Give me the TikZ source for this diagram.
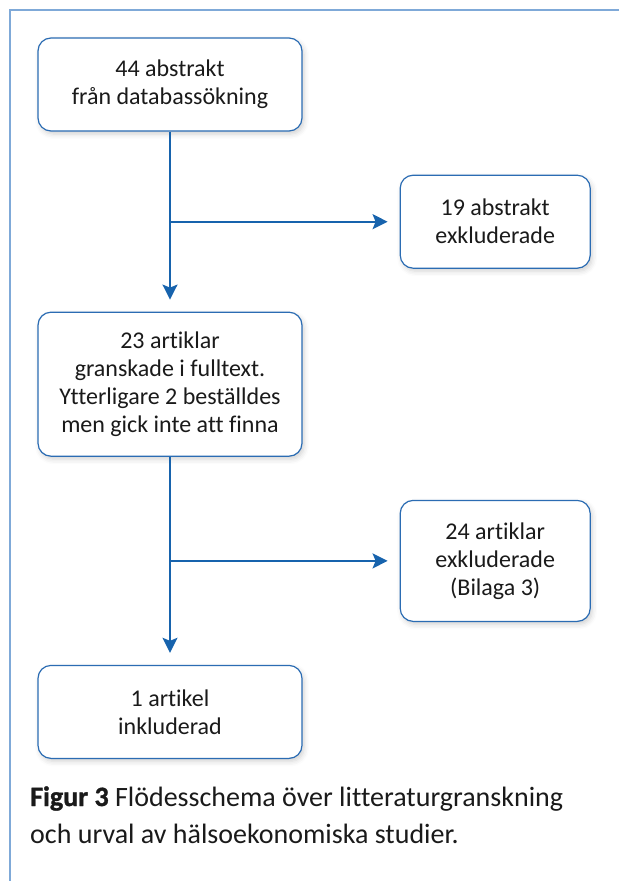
\documentclass[tikz,border=0pt]{standalone}
\usepackage{fontspec}
\setmainfont{Carlito}[Ligatures=NoCommon]
\newfontfamily\heavyfont{Carlito}[BoldFeatures={FakeBold=1.2}]
\usetikzlibrary{positioning,arrows.meta,shadows.blur}
\definecolor{frameblue}{HTML}{7FA9D8}
\definecolor{boxblue}{HTML}{2B6CB3}
\definecolor{arrowblue}{HTML}{1763AD}
\definecolor{ink}{HTML}{1A1A1A}
\tikzset{box/.style={draw=boxblue,line width=1.2pt,rounded corners=13pt,fill=white,align=center,text=ink,
           font=\fontsize{24}{28}\selectfont,inner sep=0pt,
           blur shadow={shadow xshift=2pt,shadow yshift=-3pt,shadow blur radius=5pt,shadow opacity=18}},
         leftbox/.style={box,minimum width=264pt},
         rightbox/.style={box,minimum width=190pt},
         arr/.style={-{Stealth[length=15pt,width=15pt,inset=3pt]},arrowblue,line width=2pt,shorten >=12pt},
         frame/.style={frameblue,line width=1.4pt}}

\begin{document}
\begin{tikzpicture}[x=1pt,y=-1pt]
 \useasboundingbox (0,0) rectangle (619,881);
 \draw[frame] (619,10) -- (10,10) -- (10,881);
 \node[leftbox,minimum height=93pt] (abs) at (170,84.5) {44 abstrakt\\ från databassökning};
 \node[rightbox,minimum height=93pt,below right=43pt and 97pt of abs.south east,anchor=north west] (exabs) {19 abstrakt\\ exkluderade};
 \node[leftbox,minimum height=144pt,below=180pt of abs] (full) {23 artiklar\\ granskade i fulltext.\\ Ytterligare 2 beställdes\\ men gick inte att finna};
 \node[rightbox,minimum height=121pt,below right=43pt and 97pt of full.south east,anchor=north west] (exart) {24 artiklar\\ exkluderade\\ (Bilaga 3)};
 \node[leftbox,minimum height=93pt,below=208pt of full] (incl) {1 artikel\\ inkluderad};
 \node[anchor=base west,align=left,text=ink,inner sep=0pt,font=\fontsize{28}{37}\selectfont] (cap) at (30,843)
   {{\heavyfont\bfseries Figur 3} Flödesschema över litteraturgranskning\\ och urval av hälsoekonomiska studier.};
 \draw[arr] (abs) -- (full);
 \draw[arr] (exabs.west -| abs.south) -- (exabs.west);
 \draw[arr] (full) -- (incl);
 \draw[arr] (exart.west -| full.south) -- (exart.west);
\end{tikzpicture}
\end{document}
